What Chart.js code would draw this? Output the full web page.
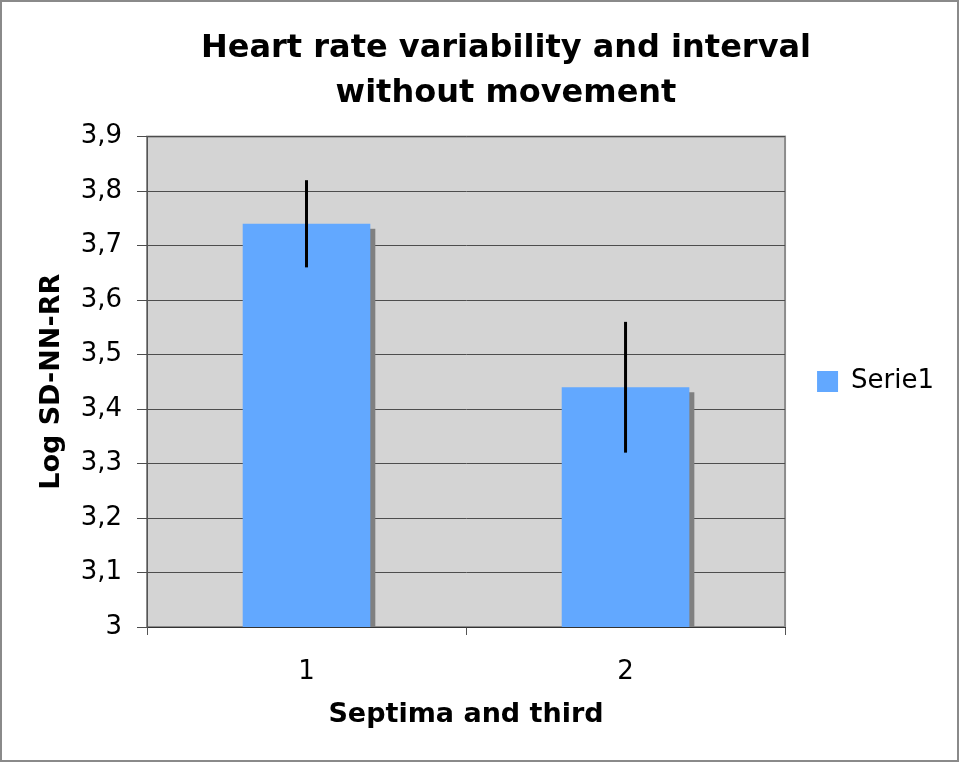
<!DOCTYPE html>
<html>
<head>
<meta charset="utf-8">
<script src="https://cdn.jsdelivr.net/npm/chart.js@4"></script>
<style>
  html, body { margin: 0; padding: 0; background: #fff; }
  #wrap { position: relative; width: 960px; height: 763px; }
</style>
</head>
<body>
<div id="wrap"><canvas id="hrvChart"></canvas></div>
<script>
// chart data
const categories = ['1', '2'];
const seriesName = 'Serie1';
const meanValues = [3.74, 3.44];
const errLow = [3.66, 3.32];
const errHigh = [3.82, 3.56];
const yTicks = [3, 3.1, 3.2, 3.3, 3.4, 3.5, 3.6, 3.7, 3.8, 3.9];

const FONT = "'DejaVu Sans', Verdana, sans-serif";

// plot background + gray frame, bar shadows, error bars, outer border
const plotFrame = {
  id: 'plotFrame',
  beforeDraw(chart) {
    const { ctx, chartArea: a } = chart;
    ctx.save();
    ctx.fillStyle = '#d4d4d4';
    ctx.fillRect(a.left, a.top, a.right - a.left, a.bottom - a.top);
    ctx.strokeStyle = '#8c8c8c';
    ctx.lineWidth = 2;
    ctx.strokeRect(a.left, a.top, a.right - a.left, a.bottom - a.top);
    ctx.restore();
  },
  beforeDatasetsDraw(chart) {
    const { ctx, chartArea: a } = chart;
    const meta = chart.getDatasetMeta(0);
    ctx.save();
    ctx.fillStyle = '#808080';
    meta.data.forEach(bar => {
      const left = bar.x - bar.width / 2 + 5;
      ctx.fillRect(left, bar.y + 5, bar.width, a.bottom - bar.y - 5);
    });
    ctx.restore();
  },
  afterDatasetsDraw(chart) {
    const { ctx } = chart;
    const y = chart.scales.y;
    const meta = chart.getDatasetMeta(0);
    ctx.save();
    ctx.strokeStyle = '#000';
    ctx.lineWidth = 3;
    meta.data.forEach((bar, i) => {
      ctx.beginPath();
      ctx.moveTo(bar.x, y.getPixelForValue(errHigh[i]));
      ctx.lineTo(bar.x, y.getPixelForValue(errLow[i]));
      ctx.stroke();
    });
    ctx.restore();
  },
  afterDraw(chart) {
    const { ctx } = chart;
    ctx.save();
    ctx.strokeStyle = '#8a8a8a';
    ctx.lineWidth = 2;
    ctx.strokeRect(1, 1, chart.width - 3, chart.height - 3);
    ctx.restore();
  }
};

const ctx = document.getElementById('hrvChart').getContext('2d');
const chart = new Chart(ctx, {
  type: 'bar',
  data: {
    labels: categories,
    datasets: [{
      label: seriesName,
      data: meanValues,
      backgroundColor: '#62a8ff',
      borderWidth: 0,
      barPercentage: 0.4,
      categoryPercentage: 1.0
    }]
  },
  options: {
    responsive: true,
    maintainAspectRatio: false,
    animation: false,
    layout: { padding: { left: 68, right: 16, top: 0, bottom: 0 } },
    plugins: {
      title: {
        display: true,
        text: ['Heart rate variability and interval', 'without movement'],
        color: '#000',
        font: { family: FONT, size: 32, weight: 'bold', lineHeight: 1.4 },
        padding: { top: 26, bottom: 21 }
      },
      legend: {
        position: 'right',
        labels: {
          color: '#000',
          font: { family: FONT, size: 26 },
          boxWidth: 21,
          boxHeight: 21,
          padding: 32
        }
      },
      tooltip: { enabled: false }
    },
    scales: {
      x: {
        grid: {
          offset: true,
          drawOnChartArea: false,
          drawTicks: true,
          tickLength: 8,
          color: '#555'
        },
        border: { color: '#333', width: 1 },
        ticks: { color: '#000', font: { family: FONT, size: 26 }, padding: 22 },
        title: {
          display: true,
          text: 'Septima and third',
          color: '#000',
          font: { family: FONT, size: 27, weight: 'bold', lineHeight: 1.2 },
          padding: { top: 0, bottom: 32 }
        },
        afterFit(scale) { scale.height = 136; }
      },
      y: {
        min: 3,
        max: 3.9,
        afterBuildTicks(scale) { scale.ticks = yTicks.map(v => ({ value: v })); },
        grid: { color: '#4d4d4d', lineWidth: 1, tickLength: 10 },
        border: { color: '#555', width: 1 },
        ticks: {
          color: '#000',
          font: { family: FONT, size: 26 },
          padding: 15,
          callback: v => String(Math.round(v * 10) / 10).replace('.', ',')
        },
        title: {
          display: true,
          text: 'Log SD-NN-RR',
          color: '#000',
          font: { family: FONT, size: 27, weight: 'bold', lineHeight: 1.2 },
          padding: { top: -32, bottom: 0 }
        },
        afterFit(scale) { scale.width = 79; }
      }
    }
  },
  plugins: [plotFrame]
});
</script>
</body>
</html>
